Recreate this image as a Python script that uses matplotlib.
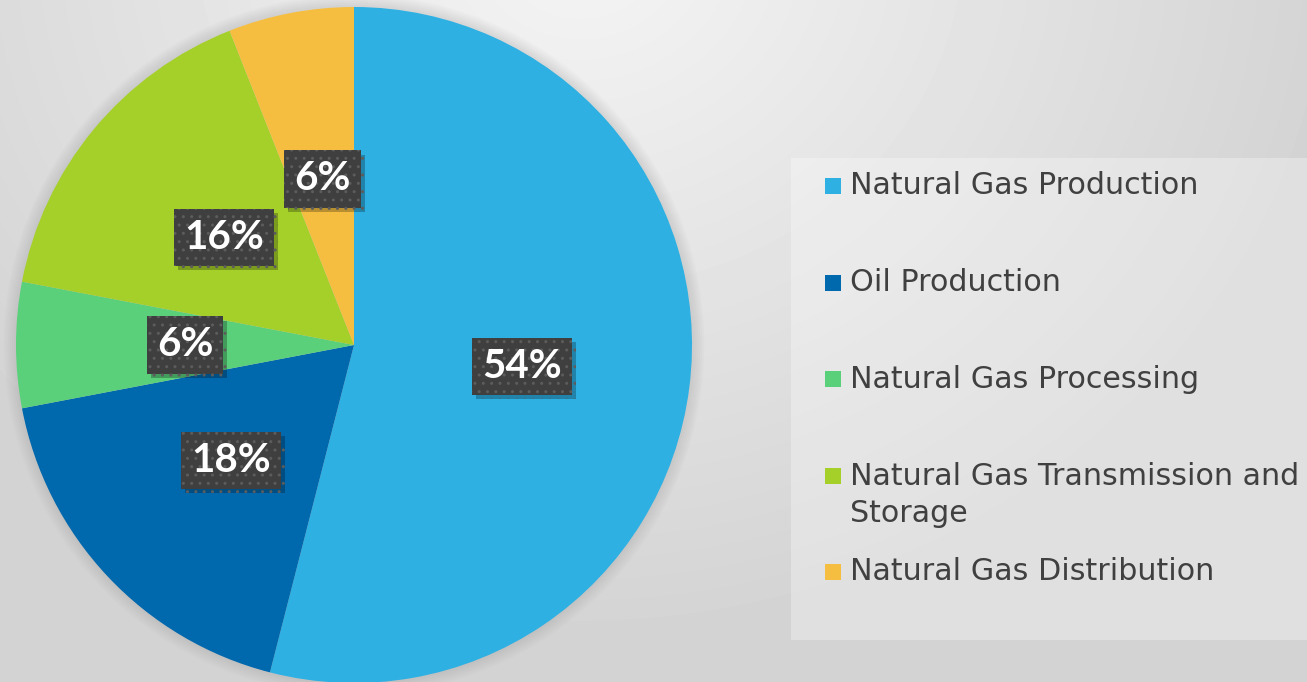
import numpy as np
import matplotlib.pyplot as plt
from matplotlib.patches import Rectangle, Circle
from matplotlib import patheffects

labels = ["Natural Gas Production", "Oil Production", "Natural Gas Processing",
          "Natural Gas Transmission and\nStorage", "Natural Gas Distribution"]
shares = [54, 18, 6, 16, 6]
colors = ["#2EB0E3", "#0068AD", "#5AD07A", "#A5CF29", "#F5BE41"]

W, H = 1307, 682
fig = plt.figure(figsize=(W / 100, H / 100), dpi=100)

#--background (soft radial light-grey gradient)
bg = fig.add_axes([0, 0, 1, 1])
yy, xx = np.mgrid[0:H, 0:W]
d = np.sqrt((xx - 580) ** 2 + ((yy + 60) * 1.1) ** 2)
val = 0.96 - 0.13 * np.clip(d / 760, 0, 1)
bg.imshow(val, cmap="gray", vmin=0, vmax=1, extent=[0, W, H, 0], aspect="auto")
bg.set_xlim(0, W)
bg.set_ylim(H, 0)
bg.axis("off")

# legend panel
bg.add_patch(Rectangle((791, 158), W - 791, 640 - 158, facecolor="white", alpha=0.3, lw=0))

#--pie
ax = fig.add_axes([16 / W, -1 / H, 676 / W, 676 / H])
# soft halo behind the pie
for k in range(6):
    ax.add_patch(Circle((0, 0), 1.0 + 0.006 * (k + 1), facecolor="#808080", alpha=0.035,
                        lw=0, zorder=0, clip_on=False))

wedges, texts, autotexts = ax.pie(
    shares, colors=colors, startangle=90, counterclock=False,
    autopct="%d%%", pctdistance=0.5, radius=1,
    wedgeprops=dict(linewidth=0),
    textprops=dict(color="white", fontsize=29, fontweight="bold", family=["Lato", "DejaVu Sans"]),
)
ax.set_xlim(-1, 1)
ax.set_ylim(-1, 1)
ax.set_aspect("equal")
ax.axis("off")

for t in autotexts:
    t.set_zorder(3)
    t.set_bbox(dict(boxstyle="square,pad=0.25", facecolor="#3F3F3F", edgecolor="#5C5C5C",
                    linewidth=0, hatch=".."))
    t.get_bbox_patch().set_path_effects([
        patheffects.SimplePatchShadow(offset=(3, -3), shadow_rgbFace="black", alpha=0.25),
        patheffects.Normal()])

#--legend
for i, (lab, c) in enumerate(zip(labels, colors)):
    yc = 186 + i * 96.5
    bg.add_patch(Rectangle((825, yc - 8), 16, 16, facecolor=c, lw=0))
    nlines = lab.count("\n") + 1
    bg.text(850, yc + (nlines - 1) * 19.5, lab, ha="left", va="center",
            fontsize=21.7, color="#404040", family=["DejaVu Sans"],
            linespacing=1.32)

fig.savefig("out.png", dpi=100)
